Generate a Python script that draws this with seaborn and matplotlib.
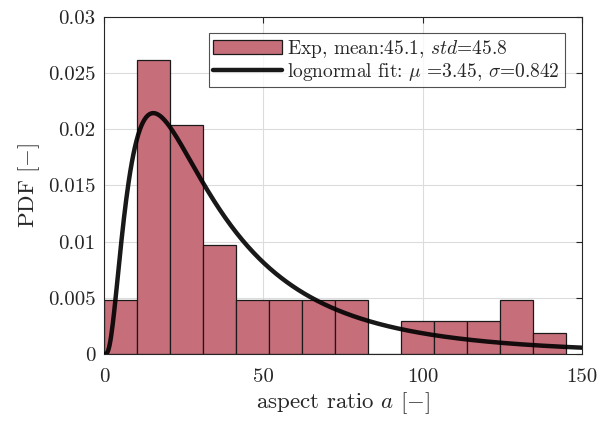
import numpy as np
import matplotlib
matplotlib.use("Agg")
import matplotlib.pyplot as plt
import seaborn as sns
import pandas as pd

# Histogram (density)
bin_edges = list(np.linspace(0, 145, 15))
densities = [0.00485, 0.0262, 0.0204, 0.0097, 0.00485, 0.00485, 0.00485, 0.00485,
             0.0, 0.0029, 0.0029, 0.0029, 0.00485, 0.0019]
# lognormal fit parameters (from legend)
mu_fit = 3.45
sigma_fit = 0.842
x_ticks = [0, 50, 100, 150]
y_ticks = [0, 0.005, 0.01, 0.015, 0.02, 0.025, 0.03]
y_ticklabels = ["0", "0.005", "0.01", "0.015", "0.02", "0.025", "0.03"]

sns.set_style("white")
plt.rcParams['font.family'] = ['cmr10', 'DejaVu Serif']
plt.rcParams['mathtext.fontset'] = 'cm'
plt.rcParams['axes.unicode_minus'] = False
plt.rcParams['axes.formatter.use_mathtext'] = True

fig = plt.figure(figsize=(5.97, 4.23), dpi=100)
ax = fig.add_axes([0.174, 0.163, 0.801, 0.797])

centers = [(bin_edges[i] + bin_edges[i + 1]) / 2 for i in range(len(densities))]
df = pd.DataFrame({"a": centers, "w": densities})
sns.histplot(data=df, x="a", weights="w", bins=bin_edges, ax=ax,
             color="#C76E7B", alpha=1.0, edgecolor="#1a1a1a", linewidth=0.9,
             label=r"Exp, mean:45.1, $\mathit{std}$=45.8", zorder=2)

xs = np.linspace(0.01, 150, 600)
pdf = np.exp(-(np.log(xs) - mu_fit) ** 2 / (2 * sigma_fit ** 2)) / (xs * sigma_fit * np.sqrt(2 * np.pi))
sns.lineplot(x=xs, y=pdf, ax=ax, color="black", linewidth=3.2, alpha=0.9,
             label=r"lognormal fit: $\mu$ =3.45, $\sigma$=0.842", zorder=3)

ax.set_xlim(0, 150)
ax.set_ylim(0, 0.03)
ax.set_xticks(x_ticks)
ax.set_xticklabels([str(t) for t in x_ticks])
ax.set_yticks(y_ticks)
ax.set_yticklabels(y_ticklabels)
ax.grid(True, color="#dcdcdc", linewidth=0.8, zorder=0)
ax.set_axisbelow(True)
ax.tick_params(direction="in", length=4, width=0.8, top=True, right=True,
               labelsize=15, colors="#262626", pad=6)
ax.tick_params(axis="x", pad=10)
for s in ax.spines.values():
    s.set_visible(True)
    s.set_color("#262626")
    s.set_linewidth(0.8)

ax.set_xlabel(r"aspect ratio $a$ [$-$]", fontsize=16.5, color="#262626", labelpad=3)
ax.set_ylabel(r"PDF [$-$]", fontsize=16.5, color="#262626", labelpad=4)

handles, labels = ax.get_legend_handles_labels()
order = [labels.index(l) for l in labels if l.startswith("Exp")] + \
        [labels.index(l) for l in labels if l.startswith("lognormal")]
leg = ax.legend([handles[i] for i in order], [labels[i] for i in order],
                loc="upper right", bbox_to_anchor=(0.964, 0.953), borderaxespad=0,
                fontsize=14, frameon=True, fancybox=False, edgecolor="#262626",
                handlelength=3.5, borderpad=0.25, labelspacing=0.05, handletextpad=0.3)
leg.get_frame().set_linewidth(0.8)

fig.savefig("out.png", dpi=100)
